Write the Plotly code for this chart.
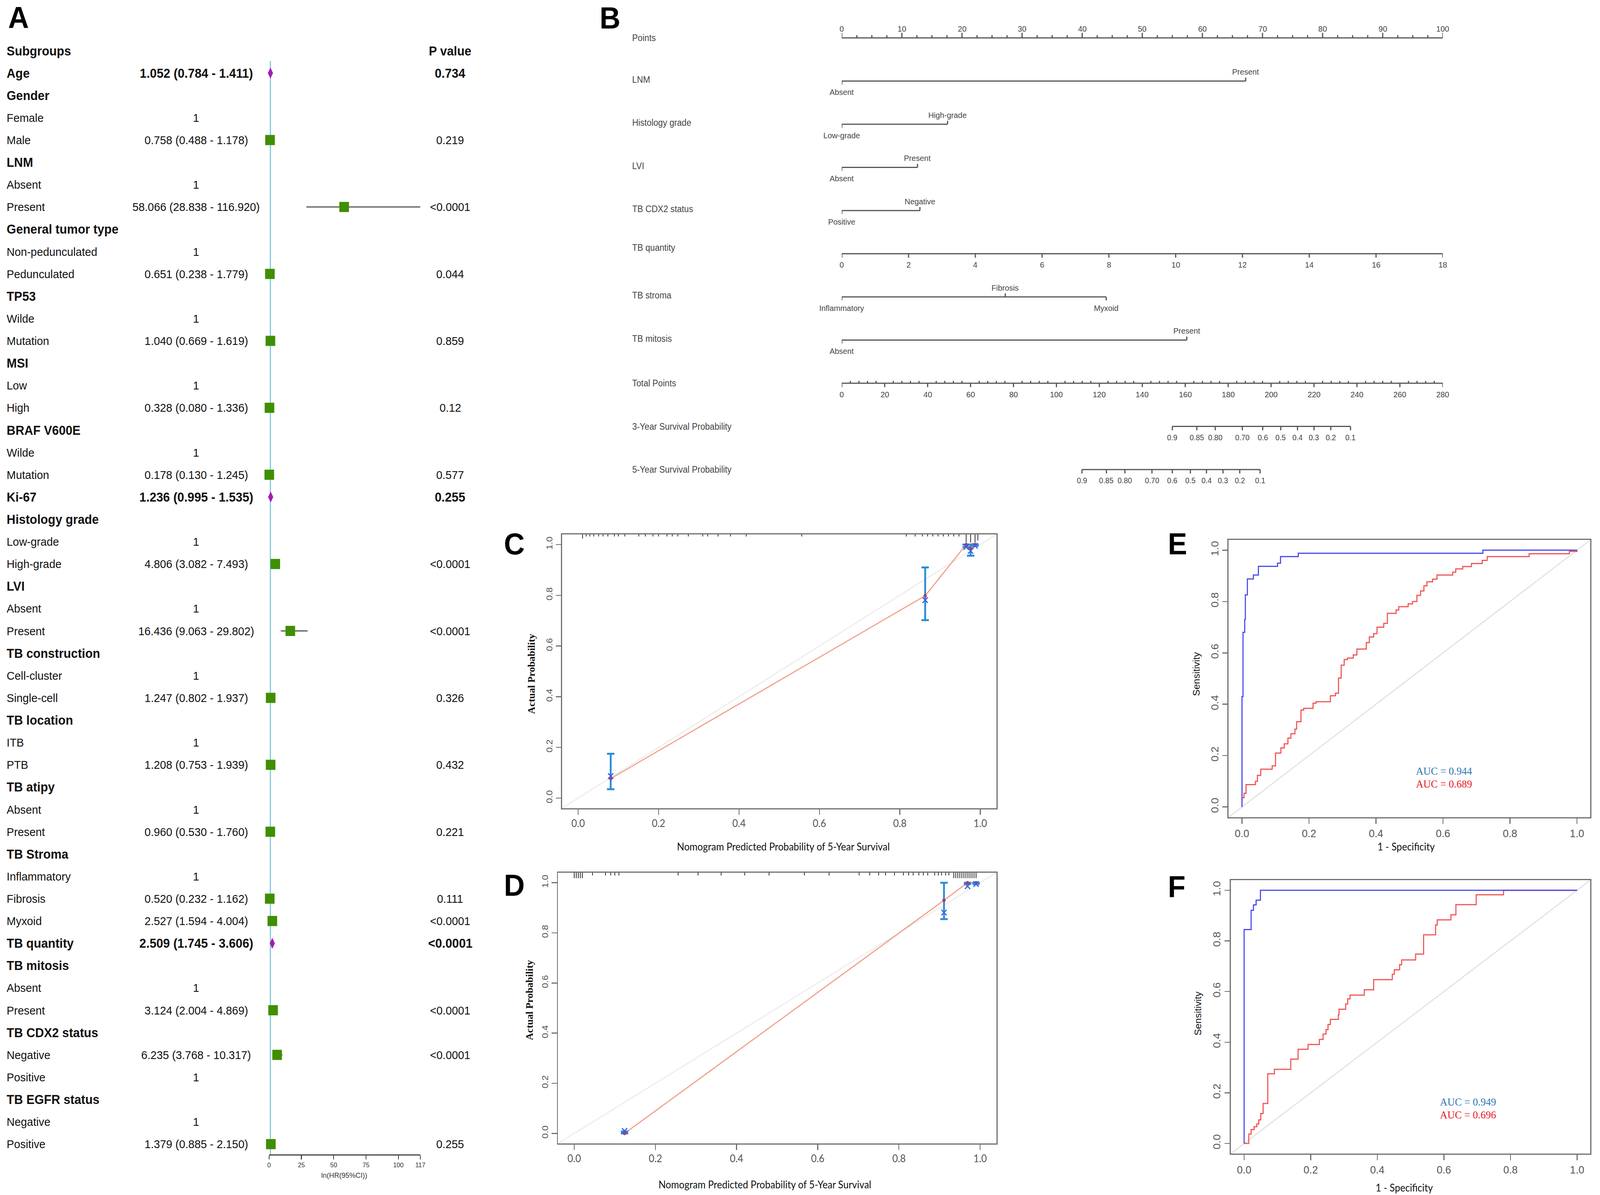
import plotly.graph_objects as go

W, H = 4328, 3059
def px(v): return v / W
def py(v): return 1 - v / H

SANS = "Liberation Sans, Arial, sans-serif"
SERIF = "Liberation Serif, Times New Roman, serif"
CAL = "Lato, Liberation Sans, sans-serif"

# ================= Panel A : forest plot data =================
subgroup_labels = ["Subgroups", "Age", "Gender", "Female", "Male", "LNM", "Absent", "Present",
                   "General tumor type", "Non-pedunculated", "Pedunculated", "TP53", "Wilde", "Mutation",
                   "MSI", "Low", "High", "BRAF V600E", "Wilde", "Mutation", "Ki-67", "Histology grade",
                   "Low-grade", "High-grade", "LVI", "Absent", "Present", "TB construction", "Cell-cluster",
                   "Single-cell", "TB location", "ITB", "PTB", "TB atipy", "Absent", "Present", "TB Stroma",
                   "Inflammatory", "Fibrosis", "Myxoid", "TB quantity", "TB mitosis", "Absent", "Present",
                   "TB CDX2 status", "Negative", "Positive", "TB EGFR status", "Negative", "Positive"]
row_kind = ["title", "cont", "head", "ref", "est", "head", "ref", "est",
            "head", "ref", "est", "head", "ref", "est",
            "head", "ref", "est", "head", "ref", "est", "cont", "head",
            "ref", "est", "head", "ref", "est", "head", "ref",
            "est", "head", "ref", "est", "head", "ref", "est", "head",
            "ref", "est", "est", "cont", "head", "ref", "est",
            "head", "est", "ref", "head", "ref", "est"]
hr = [None, 1.052, None, None, 0.758, None, None, 58.066,
      None, None, 0.651, None, None, 1.040,
      None, None, 0.328, None, None, 0.178, 1.236, None,
      None, 4.806, None, None, 16.436, None, None,
      1.247, None, None, 1.208, None, None, 0.960, None,
      None, 0.520, 2.527, 2.509, None, None, 3.124,
      None, 6.235, None, None, None, 1.379]
hr_lo = [None, 0.784, None, None, 0.488, None, None, 28.838,
         None, None, 0.238, None, None, 0.669,
         None, None, 0.080, None, None, 0.130, 0.995, None,
         None, 3.082, None, None, 9.063, None, None,
         0.802, None, None, 0.753, None, None, 0.530, None,
         None, 0.232, 1.594, 1.745, None, None, 2.004,
         None, 3.768, None, None, None, 0.885]
hr_hi = [None, 1.411, None, None, 1.178, None, None, 116.920,
         None, None, 1.779, None, None, 1.619,
         None, None, 1.336, None, None, 1.245, 1.535, None,
         None, 7.493, None, None, 29.802, None, None,
         1.937, None, None, 1.939, None, None, 1.760, None,
         None, 1.162, 4.004, 3.606, None, None, 4.869,
         None, 10.317, None, None, None, 2.150]
p_values = ["P value", "0.734", "", "", "0.219", "", "", "<0.0001",
            "", "", "0.044", "", "", "0.859",
            "", "", "0.12", "", "", "0.577", "0.255", "",
            "", "<0.0001", "", "", "<0.0001", "", "",
            "0.326", "", "", "0.432", "", "", "0.221", "",
            "", "0.111", "<0.0001", "<0.0001", "", "", "<0.0001",
            "", "<0.0001", "", "", "", "0.255"]
forest_ticks = [0, 25, 50, 75, 100, 117]

# ================= Panel B : nomogram data =================
points_ticks = [0, 10, 20, 30, 40, 50, 60, 70, 80, 90, 100]
nomo_vars = ["LNM", "Histology grade", "LVI", "TB CDX2 status", "TB stroma", "TB mitosis"]
nomo_levels = [["Absent", "Present"], ["Low-grade", "High-grade"], ["Absent", "Present"],
               ["Positive", "Negative"], ["Inflammatory", "Fibrosis", "Myxoid"], ["Absent", "Present"]]
nomo_points = [[0, 67.2], [0, 17.6], [0, 12.6], [0, 13.0], [0, 27.2, 44.0], [0, 57.4]]
tbq_ticks = [0, 2, 4, 6, 8, 10, 12, 14, 16, 18]
tbq_max_points = 100
total_ticks = [0, 20, 40, 60, 80, 100, 120, 140, 160, 180, 200, 220, 240, 260, 280]
surv_labels = ["0.9", "0.85", "0.80", "0.70", "0.6", "0.5", "0.4", "0.3", "0.2", "0.1"]
surv3_total = [154.0, 165.4, 174.0, 186.6, 196.1, 204.5, 212.3, 220.0, 227.8, 237.0]
surv5_total = [111.9, 123.3, 131.9, 144.5, 154.0, 162.4, 169.9, 177.6, 185.4, 194.9]

# ================= Panels C / D : calibration data =================
calib_c_pred = [0.081, 0.863, 0.965, 0.976, 0.987]
calib_c_obs = [0.077, 0.798, 1.000, 0.984, 1.000]
calib_c_km = [0.087, 0.781, 0.990, 0.975, 0.995]
calib_c_lo = [0.035, 0.702, 0.990, 0.956, 0.995]
calib_c_hi = [0.175, 0.910, 1.000, 1.000, 1.000]
rug_c_x = [0.011, 0.020, 0.029, 0.039, 0.051, 0.062, 0.074, 0.090, 0.100, 0.116, 0.151, 0.167,
           0.186, 0.200, 0.221, 0.234, 0.248, 0.274, 0.310, 0.322, 0.348, 0.379, 0.418, 0.556,
           0.816, 0.838, 0.856, 0.869, 0.882, 0.895, 0.908, 0.921, 0.934, 0.947,
           0.965, 0.976, 0.987, 0.994]
rug_c_n = [2, 1, 1, 1, 1, 1, 1, 1, 1, 1, 1, 1, 1, 1, 1, 1, 1, 1, 1, 1, 1, 1, 1, 1,
           1, 1, 1, 1, 1, 1, 1, 1, 1, 1, 4, 4, 4, 3]

calib_d_pred = [0.124, 0.911, 0.969, 0.990]
calib_d_obs = [0.000, 0.930, 1.000, 1.000]
calib_d_km = [0.010, 0.881, 0.986, 0.995]
calib_d_lo = [0.000, 0.855, 0.995, 0.995]
calib_d_hi = [0.008, 1.000, 1.000, 1.000]
rug_d_x = [0.000, 0.005, 0.010, 0.015, 0.020, 0.045, 0.077, 0.090, 0.100, 0.110, 0.256, 0.305,
           0.362, 0.420, 0.480, 0.567, 0.628, 0.702, 0.728, 0.750, 0.767, 0.789, 0.811, 0.824,
           0.835, 0.849, 0.860, 0.871, 0.888, 0.897, 0.905, 0.915, 0.923, 0.935, 0.940, 0.945,
           0.950, 0.955, 0.960, 0.965, 0.970, 0.975, 0.980, 0.985, 0.990]
rug_d_n = [2, 2, 2, 2, 2, 1, 1, 1, 1, 1, 1, 1, 1, 1, 1, 1, 1, 1, 1, 1, 1, 1, 1, 1,
           1, 1, 1, 1, 1, 1, 1, 1, 1, 2, 2, 2, 2, 2, 2, 2, 2, 2, 2, 2, 2]

# ================= Panels E / F : ROC data =================
roc_e_blue_fpr = [0, 0, 0.003, 0.008, 0.010, 0.016, 0.034, 0.049, 0.106, 0.115, 0.168, 0.719, 1.0]
roc_e_blue_tpr = [0, 0.430, 0.680, 0.730, 0.826, 0.888, 0.903, 0.937, 0.949, 0.975, 0.988, 1.0, 1.0]
roc_e_red_fpr = [0, 0, 0.006, 0.012, 0.040, 0.046, 0.056, 0.090, 0.100, 0.116, 0.126, 0.137, 0.146,
                 0.158, 0.163, 0.176, 0.184, 0.212, 0.221, 0.264, 0.279, 0.288, 0.296, 0.305, 0.315,
                 0.332, 0.343, 0.371, 0.380, 0.393, 0.403, 0.423, 0.434, 0.460, 0.468, 0.496, 0.509,
                 0.522, 0.533, 0.543, 0.552, 0.569, 0.582, 0.629, 0.638, 0.659, 0.685, 0.717, 0.732,
                 0.857, 0.977, 1.0]
roc_e_red_tpr = [0, 0.036, 0.053, 0.087, 0.100, 0.123, 0.147, 0.160, 0.210, 0.230, 0.246, 0.268, 0.285,
                 0.303, 0.332, 0.377, 0.384, 0.404, 0.410, 0.433, 0.443, 0.502, 0.552, 0.574, 0.580,
                 0.592, 0.615, 0.640, 0.662, 0.675, 0.700, 0.715, 0.754, 0.767, 0.780, 0.791, 0.800,
                 0.824, 0.841, 0.861, 0.877, 0.887, 0.903, 0.914, 0.927, 0.936, 0.948, 0.960, 0.975,
                 0.986, 0.995, 1.0]
roc_f_blue_fpr = [0, 0, 0.021, 0.028, 0.036, 0.049, 1.0]
roc_f_blue_tpr = [0, 0.845, 0.921, 0.942, 0.961, 1.0, 1.0]
roc_f_red_fpr = [0, 0.014, 0.021, 0.030, 0.038, 0.044, 0.050, 0.057, 0.071, 0.091, 0.140, 0.162, 0.192,
                 0.226, 0.237, 0.246, 0.252, 0.259, 0.283, 0.285, 0.305, 0.311, 0.318, 0.361, 0.389,
                 0.445, 0.451, 0.467, 0.473, 0.515, 0.539, 0.575, 0.580, 0.621, 0.636, 0.697, 0.779, 1.0]
roc_f_red_tpr = [0, 0.037, 0.055, 0.066, 0.077, 0.093, 0.118, 0.158, 0.275, 0.293, 0.333, 0.372, 0.391,
                 0.411, 0.432, 0.450, 0.470, 0.490, 0.508, 0.530, 0.551, 0.571, 0.586, 0.607, 0.647,
                 0.668, 0.686, 0.706, 0.725, 0.748, 0.824, 0.863, 0.883, 0.903, 0.943, 0.982, 1.0, 1.0]
auc_e = ["AUC = 0.944", "AUC = 0.689"]
auc_f = ["AUC = 0.949", "AUC = 0.696"]
unit_ticks = [0, 0.2, 0.4, 0.6, 0.8, 1.0]

# ==================================================================
fig = go.Figure()
ann = []
shapes = []

GREEN = "#3f8f00"
PURPLE = "#a21cb5"

# ---------- Panel A ----------
est_idx = [i for i, k in enumerate(row_kind) if k == "est"]
cont_idx = [i for i, k in enumerate(row_kind) if k == "cont"]
for idxs, sym, size, col in [(est_idx, "square", 26, GREEN), (cont_idx, "diamond-tall", 20, PURPLE)]:
    fig.add_trace(go.Scatter(
        x=[hr[i] for i in idxs], y=idxs, mode="markers",
        marker=dict(symbol=sym, size=size, color=col, line=dict(width=0)),
        error_x=dict(type="data", symmetric=False,
                     array=[hr_hi[i] - hr[i] for i in idxs],
                     arrayminus=[hr[i] - hr_lo[i] for i in idxs],
                     color="#7a7a7a", thickness=4, width=0),
        xaxis="x", yaxis="y", cliponaxis=False, hoverinfo="skip"))

shapes.append(dict(type="line", xref="x", yref="paper", x0=1, x1=1, y0=py(2956), y1=py(156),
                   line=dict(color="#7cc6db", width=3), layer="below"))

for i, lab in enumerate(subgroup_labels):
    kind = row_kind[i]
    bold = kind in ("title", "head", "cont")
    fsize = 33 if bold else 30
    t = f"<b>{lab}</b>" if bold else lab
    ann.append(dict(x=px(11), y=i, xref="paper", yref="y", text=t, showarrow=False,
                    xanchor="left", yanchor="middle", font=dict(family=SANS, size=fsize, color="#111")))
    if kind in ("est", "cont"):
        s = f"{hr[i]:.3f} ({hr_lo[i]:.3f} - {hr_hi[i]:.3f})"
    elif kind == "ref":
        s = "1"
    else:
        s = ""
    if s:
        ann.append(dict(x=px(528), y=i, xref="paper", yref="y",
                        text=f"<b>{s}</b>" if kind == "cont" else s, showarrow=False,
                        xanchor="center", yanchor="middle",
                        font=dict(family=SANS, size=33 if kind == "cont" else 30, color="#111")))
    if p_values[i]:
        pb = kind in ("title", "cont")
        ann.append(dict(x=px(1218), y=i, xref="paper", yref="y",
                        text=f"<b>{p_values[i]}</b>" if pb else p_values[i], showarrow=False,
                        xanchor="center", yanchor="middle",
                        font=dict(family=SANS, size=33 if pb else 30, color="#111")))

ann.append(dict(x=px(931), y=py(3008), xref="paper", yref="paper", text="ln(HR(95%CI))",
                showarrow=False, xanchor="center", yanchor="middle",
                font=dict(family=SANS, size=19, color="#333")))

# ---------- Panel B ----------
NCOL = "#555555"
TCOL = "#444444"
row_y0, row_step = 97, 110.5
nomo_rows = [1, 2, 3, 4, 6, 7]   # row slots of the categorical predictors
seg_x, seg_y = [], []
def seg(x0, y0, x1, y1):
    seg_x.extend([x0, x1, None]); seg_y.extend([y0, y1, None])

def blabel(text, x, y, size=21):
    ann.append(dict(x=x, y=y, xref="x2", yref="y2", text=text, showarrow=False,
                    xanchor="center", yanchor="middle", font=dict(family=SANS, size=size, color=TCOL)))

def rowlabel(text, y):
    ann.append(dict(x=px(1711), y=y, xref="paper", yref="y2", text=text, showarrow=False,
                    xanchor="left", yanchor="middle", font=dict(family=SANS, size=23, color=TCOL)))

# Points
yk = row_y0
rowlabel("Points", yk)
seg(0, yk, 100, yk)
v = 0.0
while v <= 100.001:
    major = abs(v / 10 - round(v / 10)) < 1e-6
    seg(v, yk, v, yk - (13 if major else 7))
    v += 2.5
for t in points_ticks:
    blabel(str(t), t, yk - 24)

# categorical predictors
for slot, name, levels, pts in zip(nomo_rows, nomo_vars, nomo_levels, nomo_points):
    yk = row_y0 + row_step * slot
    rowlabel(name, yk - 4)
    seg(min(pts), yk, max(pts), yk)
    for j, (lv, p) in enumerate(zip(levels, pts)):
        above = (j % 2 == 1)
        seg(p, yk, p, yk - 9 if above else yk + 9)
        blabel(lv, p, yk - 24 if above else yk + 28)

# TB quantity
yk = row_y0 + row_step * 5
rowlabel("TB quantity", yk - 16)
seg(0, yk, tbq_max_points, yk)
for t in tbq_ticks:
    xv = t / max(tbq_ticks) * tbq_max_points
    seg(xv, yk, xv, yk + 10)
    blabel(str(t), xv, yk + 28)

# Total points
yk = row_y0 + row_step * 8
rowlabel("Total Points", yk)
tmax = max(total_ticks)
seg(0, yk, 100, yk)
for t in range(0, tmax + 1, 4):
    xv = t / tmax * 100
    if t % 20 == 0:
        seg(xv, yk, xv, yk + 10)
    else:
        seg(xv, yk, xv, yk - 6)
for t in total_ticks:
    blabel(str(t), t / tmax * 100, yk + 28)

# survival probability scales
for r, (name, tot) in enumerate([("3-Year Survival Probability", surv3_total),
                                  ("5-Year Survival Probability", surv5_total)]):
    yk = row_y0 + row_step * (9 + r)
    rowlabel(name, yk)
    xs = [t / tmax * 100 for t in tot]
    seg(min(xs), yk, max(xs), yk)
    for lab, xv in zip(surv_labels, xs):
        seg(xv, yk, xv, yk + 10)
        blabel(lab, xv, yk + 28, size=20)

fig.add_trace(go.Scatter(x=seg_x, y=seg_y, mode="lines", line=dict(color=NCOL, width=3.2),
                         xaxis="x2", yaxis="y2", hoverinfo="skip", cliponaxis=False))

# ---------- Panels C / D ----------
def calib(ax, pred, obs, km, lo, hi, rug_x, rug_n, rug_h):
    xa, ya = "x" + ax, "y" + ax
    fig.add_trace(go.Scatter(x=[-0.04, 1.04], y=[-0.04, 1.04], mode="lines",
                             line=dict(color="#ededed", width=3), xaxis=xa, yaxis=ya, hoverinfo="skip"))
    fig.add_trace(go.Scatter(x=pred, y=obs, mode="lines", line=dict(color="#f2a08e", width=3),
                             xaxis=xa, yaxis=ya, hoverinfo="skip"))
    rx, ry = [], []
    for xv, n in zip(rug_x, rug_n):
        rx.extend([xv, xv, None]); ry.extend([1.04, 1.04 - rug_h * n, None])
    fig.add_trace(go.Scatter(x=rx, y=ry, mode="lines", line=dict(color="#222", width=2),
                             xaxis=xa, yaxis=ya, hoverinfo="skip"))
    fig.add_trace(go.Scatter(x=pred, y=obs, mode="markers", marker=dict(size=1, color="rgba(0,0,0,0)"),
                             error_y=dict(type="data", symmetric=False,
                                          array=[h - o for h, o in zip(hi, obs)],
                                          arrayminus=[o - l for o, l in zip(obs, lo)],
                                          color="#2a8fd8", thickness=5, width=10),
                             xaxis=xa, yaxis=ya, hoverinfo="skip"))
    fig.add_trace(go.Scatter(x=pred, y=obs, mode="markers",
                             marker=dict(size=9, color="#a8405e"), xaxis=xa, yaxis=ya, hoverinfo="skip"))
    fig.add_trace(go.Scatter(x=pred, y=km, mode="markers",
                             marker=dict(symbol="x-thin-open", size=14, color="#4060e0",
                                         line=dict(width=3, color="#4060e0")),
                             xaxis=xa, yaxis=ya, hoverinfo="skip"))

calib("3", calib_c_pred, calib_c_obs, calib_c_km, calib_c_lo, calib_c_hi, rug_c_x, rug_c_n, 0.008)
calib("4", calib_d_pred, calib_d_obs, calib_d_km, calib_d_lo, calib_d_hi, rug_d_x, rug_d_n, 0.011)

# ---------- Panels E / F ----------
def roc(ax, bf, bt, rf, rt):
    xa, ya = "x" + ax, "y" + ax
    fig.add_trace(go.Scatter(x=[-0.04, 1.04], y=[-0.04, 1.04], mode="lines",
                             line=dict(color="#dedede", width=2.5), xaxis=xa, yaxis=ya, hoverinfo="skip"))
    fig.add_trace(go.Scatter(x=rf, y=rt, mode="lines", line=dict(color="#f05656", width=3, shape="hv"),
                             xaxis=xa, yaxis=ya, hoverinfo="skip"))
    fig.add_trace(go.Scatter(x=bf, y=bt, mode="lines", line=dict(color="#4848f0", width=3, shape="hv"),
                             xaxis=xa, yaxis=ya, hoverinfo="skip"))

roc("5", roc_e_blue_fpr, roc_e_blue_tpr, roc_e_red_fpr, roc_e_red_tpr)
roc("6", roc_f_blue_fpr, roc_f_blue_tpr, roc_f_red_fpr, roc_f_red_tpr)

def box_axes(n, xdom, ydom, xfont, yfont, xsize, ysize):
    base = dict(range=[-0.04, 1.04], showgrid=False, zeroline=False, showline=True, mirror=True,
                linecolor="#707070", linewidth=3, ticks="outside", ticklen=14, tickwidth=2.5,
                tickcolor="#707070", tickvals=unit_ticks, ticktext=[f"{t:.1f}" for t in unit_ticks])
    xa = dict(base, domain=xdom, anchor="y" + n, tickfont=dict(family=xfont, size=xsize, color="#555"))
    ya = dict(base, domain=ydom, anchor="x" + n, tickangle=-90,
              tickfont=dict(family=yfont, size=ysize, color="#555"))
    return xa, ya

xa3, ya3 = box_axes("3", [px(1522), px(2702)], [py(2069), py(1368)], CAL, SANS, 26, 24)
xa4, ya4 = box_axes("4", [px(1511), px(2702)], [py(2927), py(2234)], CAL, SANS, 26, 24)
xa5, ya5 = box_axes("5", [px(3333), px(4316)], [py(2092), py(1382)], SANS, SANS, 28, 28)
xa6, ya6 = box_axes("6", [px(3339), px(4316)], [py(2953), py(2253)], SANS, SANS, 28, 28)

def title(text, x, y, font, size, color="#111", angle=0):
    ann.append(dict(x=px(x), y=py(y), xref="paper", yref="paper", text=text, showarrow=False,
                    xanchor="center", yanchor="middle", textangle=angle,
                    font=dict(family=font, size=size, color=color)))

title("Nomogram Predicted Probability of 5-Year Survival", 2123, 2167, CAL, 26)
title("Nomogram Predicted Probability of 5-Year Survival", 2073, 3032, CAL, 26)
title("<b>Actual Probability</b>", 1439, 1725, SERIF, 26, angle=-90)
title("<b>Actual Probability</b>", 1434, 2560, SERIF, 26, angle=-90)
title("1 - Specificity", 3816, 2167, CAL, 26)
title("1 - Specificity", 3811, 3040, CAL, 26)
title("Sensitivity", 3245, 1725, SANS, 25, angle=-90)
title("Sensitivity", 3249, 2594, SANS, 25, angle=-90)

title(auc_e[0], 3918, 1973, SERIF, 28, color="#2e75b6")
title(auc_e[1], 3918, 2006, SERIF, 28, color="#e8161e")
title(auc_f[0], 3983, 2820, SERIF, 28, color="#2e75b6")
title(auc_f[1], 3983, 2853, SERIF, 28, color="#e8161e")

# panel letters
for letter, x, y in [("A", 15, 45), ("B", 1622, 46), ("C", 1362, 1392), ("D", 1362, 2266),
                     ("E", 3166, 1392), ("F", 3166, 2270)]:
    ann.append(dict(x=px(x), y=py(y), xref="paper", yref="paper", text=f"<b>{letter}</b>",
                    showarrow=False, xanchor="left", yanchor="middle",
                    font=dict(family=SANS, size=78, color="#000")))

fig.update_layout(
    width=W, height=H, margin=dict(l=0, r=0, t=0, b=0),
    paper_bgcolor="white", plot_bgcolor="rgba(0,0,0,0)", showlegend=False,
    xaxis=dict(domain=[px(726), px(1137)], range=[0, 117], anchor="free", position=py(2956),
               showline=True, linecolor="#444", linewidth=2.5, ticks="outside", ticklen=10,
               tickwidth=2.5, tickcolor="#444", tickvals=forest_ticks,
               ticktext=[str(t) for t in forest_ticks],
               tickfont=dict(size=17, color="#333", family=SANS), showgrid=False, zeroline=False),
    yaxis=dict(domain=[0, 1], range=[51.28, -2.276], visible=False, anchor="x"),
    xaxis2=dict(domain=[px(2282), px(3915)], range=[0, 100], visible=False, anchor="y2"),
    yaxis2=dict(domain=[py(1260), 1], range=[1260, 0], visible=False, anchor="x2"),
    xaxis3=xa3, yaxis3=ya3, xaxis4=xa4, yaxis4=ya4,
    xaxis5=xa5, yaxis5=ya5, xaxis6=xa6, yaxis6=ya6,
    annotations=ann, shapes=shapes,
)

# fit the fixed-size figure exactly into the browser viewport
fit_js = """
var gd = document.getElementById('{plot_id}');
document.documentElement.style.margin = '0';
document.body.style.margin = '0';
document.documentElement.style.overflow = 'hidden';
document.body.style.overflow = 'hidden';
var sx = window.innerWidth / %d, sy = window.innerHeight / %d;
gd.style.transformOrigin = '0 0';
gd.style.transform = 'scale(' + sx + ',' + sy + ')';
""" % (W, H)

fig.write_html("out.html", post_script=fit_js,
               config={"displayModeBar": False, "staticPlot": True})
